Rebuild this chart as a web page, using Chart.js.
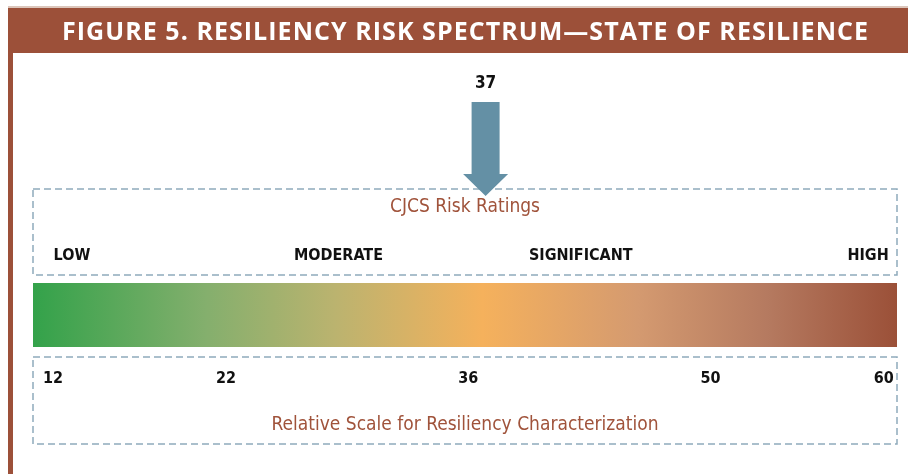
<!DOCTYPE html>
<html>
<head>
<meta charset="utf-8">
<script src="https://cdn.jsdelivr.net/npm/chart.js@4.4.1/dist/chart.umd.min.js"></script>
<style>
  html, body { margin: 0; padding: 0; background: #fff; }
  #wrap { position: relative; width: 910px; height: 474px; }
</style>
</head>
<body>
<div id="wrap"><canvas id="chart"></canvas></div>
<script>
// chart data
const figureTitle = 'FIGURE 5. RESILIENCY RISK SPECTRUM\u2014STATE OF RESILIENCE';
const scaleTicks = [12, 22, 36, 50, 60];
const riskLevels = ['LOW', 'MODERATE', 'SIGNIFICANT', 'HIGH'];
const riskLevelAt = [13.1, 28.5, 42.5, 59.1];
const spectrum = [10.85, 60.77];
const currentRating = 37;
const ratingsTitle = 'CJCS Risk Ratings';
const scaleTitle = 'Relative Scale for Resiliency Characterization';

const BROWN = '#9c5039';
const TITLE_BROWN = '#a0533b';
const DASH = '#8fabbc';
const ARROW = '#6490a5';
const NARROW = "'Liberation Sans Narrow', 'DejaVu Sans Condensed', 'Roboto', sans-serif";

function spectrumGradient(context) {
    const { chart } = context;
    const area = chart.chartArea;
    if (!area) return '#f5b15c';
    const g = chart.ctx.createLinearGradient(area.left, 0, area.right, 0);
    g.addColorStop(0, '#33a24a');
    g.addColorStop(0.2, '#84af6d');
    g.addColorStop(0.35, '#bbb36f');
    g.addColorStop(0.52, '#f5b15c');
    g.addColorStop(0.7, '#d49a70');
    g.addColorStop(0.85, '#b57a60');
    g.addColorStop(1, '#9b5038');
    return g;
}

// fixed axis heights so the bar lands where the frames are
function fixHeight(h) {
    return axis => {
        axis.height = h;
        axis.paddingLeft = 0;
        axis.paddingRight = 0;
    };
}

// header band, side rule, dashed frames and the rating arrow
const decorations = {
    id: 'decorations',
    beforeDraw(chart) {
        const ctx = chart.ctx;
        const area = chart.chartArea;
        ctx.save();
        ctx.fillStyle = '#dcc6bb';
        ctx.fillRect(8, 6, 900, 2);
        ctx.fillStyle = BROWN;
        ctx.fillRect(8, 8, 900, 45);
        ctx.fillRect(8, 53, 5, chart.height - 53);

        ctx.font = "bold 25px 'Open Sans', sans-serif";
        ctx.fillStyle = '#fff';
        ctx.textBaseline = 'middle';
        ctx.textAlign = 'left';
        const w = ctx.measureText(figureTitle).width;
        const sp = (806 - w) / (figureTitle.length - 1);
        ctx.letterSpacing = sp + 'px';
        ctx.fillText(figureTitle, 62, 33);
        ctx.letterSpacing = '0px';

        ctx.strokeStyle = DASH;
        ctx.lineWidth = 1.5;
        ctx.setLineDash([7, 4]);
        ctx.strokeRect(area.left, 189, area.right - area.left, area.top - 8 - 189);
        ctx.strokeRect(area.left, area.bottom + 10, area.right - area.left, 444 - area.bottom - 10);
        ctx.restore();
    },
    afterDraw(chart) {
        const ctx = chart.ctx;
        const x = chart.scales.x.getPixelForValue(currentRating);
        ctx.save();
        ctx.fillStyle = ARROW;
        ctx.beginPath();
        ctx.moveTo(x - 14, 102);
        ctx.lineTo(x + 14, 102);
        ctx.lineTo(x + 14, 174);
        ctx.lineTo(x + 22.5, 174);
        ctx.lineTo(x, 196);
        ctx.lineTo(x - 22.5, 174);
        ctx.lineTo(x - 14, 174);
        ctx.closePath();
        ctx.fill();
        ctx.fillStyle = '#111';
        ctx.font = 'bold 17px ' + NARROW;
        ctx.textAlign = 'center';
        ctx.textBaseline = 'middle';
        ctx.fillText(String(currentRating), x, 84);
        ctx.restore();
    }
};

new Chart(document.getElementById('chart'), {
    type: 'bar',
    data: {
        labels: ['Resiliency'],
        datasets: [{
            data: [spectrum],
            backgroundColor: spectrumGradient,
            borderWidth: 0,
            barPercentage: 1,
            categoryPercentage: 1,
            xAxisID: 'x',
        }]
    },
    options: {
        indexAxis: 'y',
        responsive: true,
        maintainAspectRatio: false,
        animation: false,
        layout: { padding: { left: 33, right: 13, top: 189, bottom: 30 } },
        plugins: { legend: { display: false }, tooltip: { enabled: false }, title: { display: false } },
        scales: {
            x: {
                type: 'linear',
                position: 'bottom',
                min: spectrum[0],
                max: spectrum[1],
                afterBuildTicks: axis => { axis.ticks = scaleTicks.map(v => ({ value: v })); },
                afterFit: fixHeight(97),
                grid: { display: false, drawTicks: false },
                border: { display: false },
                ticks: {
                    autoSkip: false,
                    maxRotation: 0,
                    padding: 22,
                    color: '#111',
                    font: { family: NARROW, size: 16, weight: 'bold' },
                    callback: v => String(v)
                },
                title: {
                    display: true,
                    text: scaleTitle,
                    color: TITLE_BROWN,
                    font: { family: NARROW, size: 19 },
                    padding: { top: 0, bottom: 8 }
                }
            },
            x2: {
                type: 'linear',
                position: 'top',
                min: spectrum[0],
                max: spectrum[1],
                afterBuildTicks: axis => { axis.ticks = riskLevelAt.map(v => ({ value: v })); },
                afterFit: fixHeight(94),
                grid: { display: false, drawTicks: false },
                border: { display: false },
                ticks: {
                    autoSkip: false,
                    maxRotation: 0,
                    padding: 18,
                    color: '#111',
                    font: { family: NARROW, size: 16, weight: 'bold' },
                    callback: (v, i) => riskLevels[i]
                },
                title: {
                    display: true,
                    text: ratingsTitle,
                    color: TITLE_BROWN,
                    font: { family: NARROW, size: 19 },
                    padding: { top: 7, bottom: 0 }
                }
            },
            y: { display: false }
        }
    },
    plugins: [decorations]
});
</script>
</body>
</html>
